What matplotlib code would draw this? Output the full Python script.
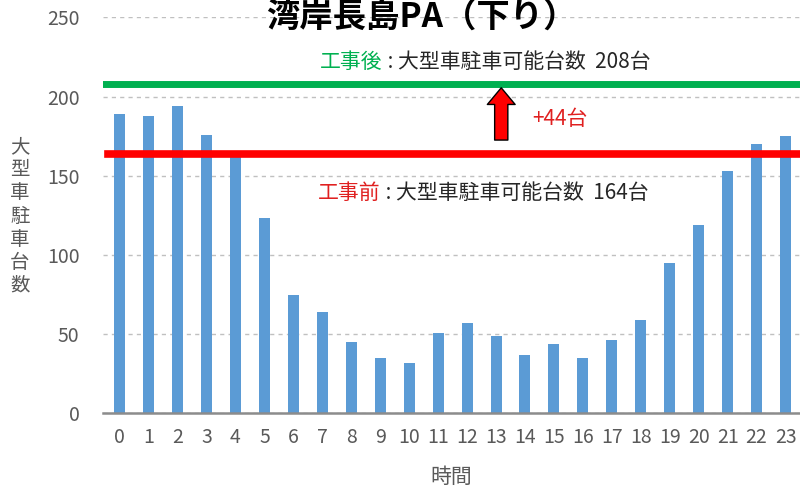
import matplotlib
matplotlib.use("Agg")
import matplotlib.pyplot as plt

plt.rcParams['font.family'] = ['Noto Sans CJK JP', 'DejaVu Sans']

# 時間別の大型車駐車台数
hours = list(range(24))
counts = [189, 188, 194, 176, 163, 123, 75, 64, 45, 35, 32, 51,
          57, 49, 37, 44, 35, 46, 59, 95, 119, 153, 170, 175]
tick_labels = [str(h) for h in hours]

cap_before = 164
cap_after = 208
increase = cap_after - cap_before

title = "湾岸長島PA（下り）"
ylabel = "大型車駐車台数"
xlabel = "時間"

gray = "#595959"

fig = plt.figure(figsize=(8, 4.9), dpi=100)
ax = fig.add_axes([0.129, 0.1565, 0.871, 0.8082])

ax.bar(hours, counts, width=0.38, color="#5b9bd5", zorder=2)

ax.set_xlim(-0.57, 23.5)
ax.set_ylim(0, 250)
ax.set_yticks([0, 50, 100, 150, 200, 250])
ax.set_xticks(hours)
ax.set_xticklabels(tick_labels)
ax.tick_params(length=0, labelsize=14, colors=gray, pad=10)
ax.tick_params(axis='y', pad=17)

for s in ["top", "right", "left"]:
    ax.spines[s].set_visible(False)
ax.spines["bottom"].set_color("#8c8c8c")
ax.spines["bottom"].set_linewidth(1.8)
ax.spines["bottom"].set_zorder(3)

ax.yaxis.grid(True, linestyle=(0, (3, 3)), color="#c0c0c0", linewidth=1)
ax.set_axisbelow(True)

# 駐車可能台数の線
ax.axhline(cap_after, xmin=0.0, xmax=1.0, color="#00b050", linewidth=5, zorder=4)
ax.axhline(cap_before, xmin=0.007, xmax=1.0, color="#ff0000", linewidth=5.5, zorder=4)

# 矢印
ax.annotate("", xy=(13.18, 205.5), xytext=(13.18, 172.5),
            arrowprops=dict(arrowstyle="simple,head_length=1.2,head_width=2.0,tail_width=0.95",
                            mutation_scale=10, fc="#ff0000", ec="black", lw=1,
                            shrinkA=0, shrinkB=0), zorder=5)
ax.text(14.24, 186, f"+{increase}台", color="#e02020", fontsize=15,
        ha="left", va="center", zorder=5)

t1 = ax.text(6.93, 222, "工事後", color="#00b050", fontsize=15,
             ha="left", va="center", zorder=5)
ax.annotate(f" : 大型車駐車可能台数  {cap_after}台", xy=(1, 0), xycoords=t1,
            va="bottom", ha="left", color="#262626", fontsize=15, zorder=5)

t2 = ax.text(6.86, 139, "工事前", color="#e02020", fontsize=15,
             ha="left", va="center", zorder=5)
ax.annotate(f" : 大型車駐車可能台数  {cap_before}台", xy=(1, 0), xycoords=t2,
            va="bottom", ha="left", color="#262626", fontsize=15, zorder=5)

fig.text(421 / 800, 1 - 28 / 490, title, fontsize=24, fontweight="bold",
         ha="center", va="baseline", color="black")

fig.text(20 / 800, 1 - 216 / 490, "\n".join(ylabel), fontsize=14, color=gray,
         ha="center", va="center", linespacing=1.13)

fig.text(451.5 / 800, 1 - 477 / 490, xlabel, fontsize=15, color=gray,
         ha="center", va="center")

fig.savefig("out.png", dpi=100)
